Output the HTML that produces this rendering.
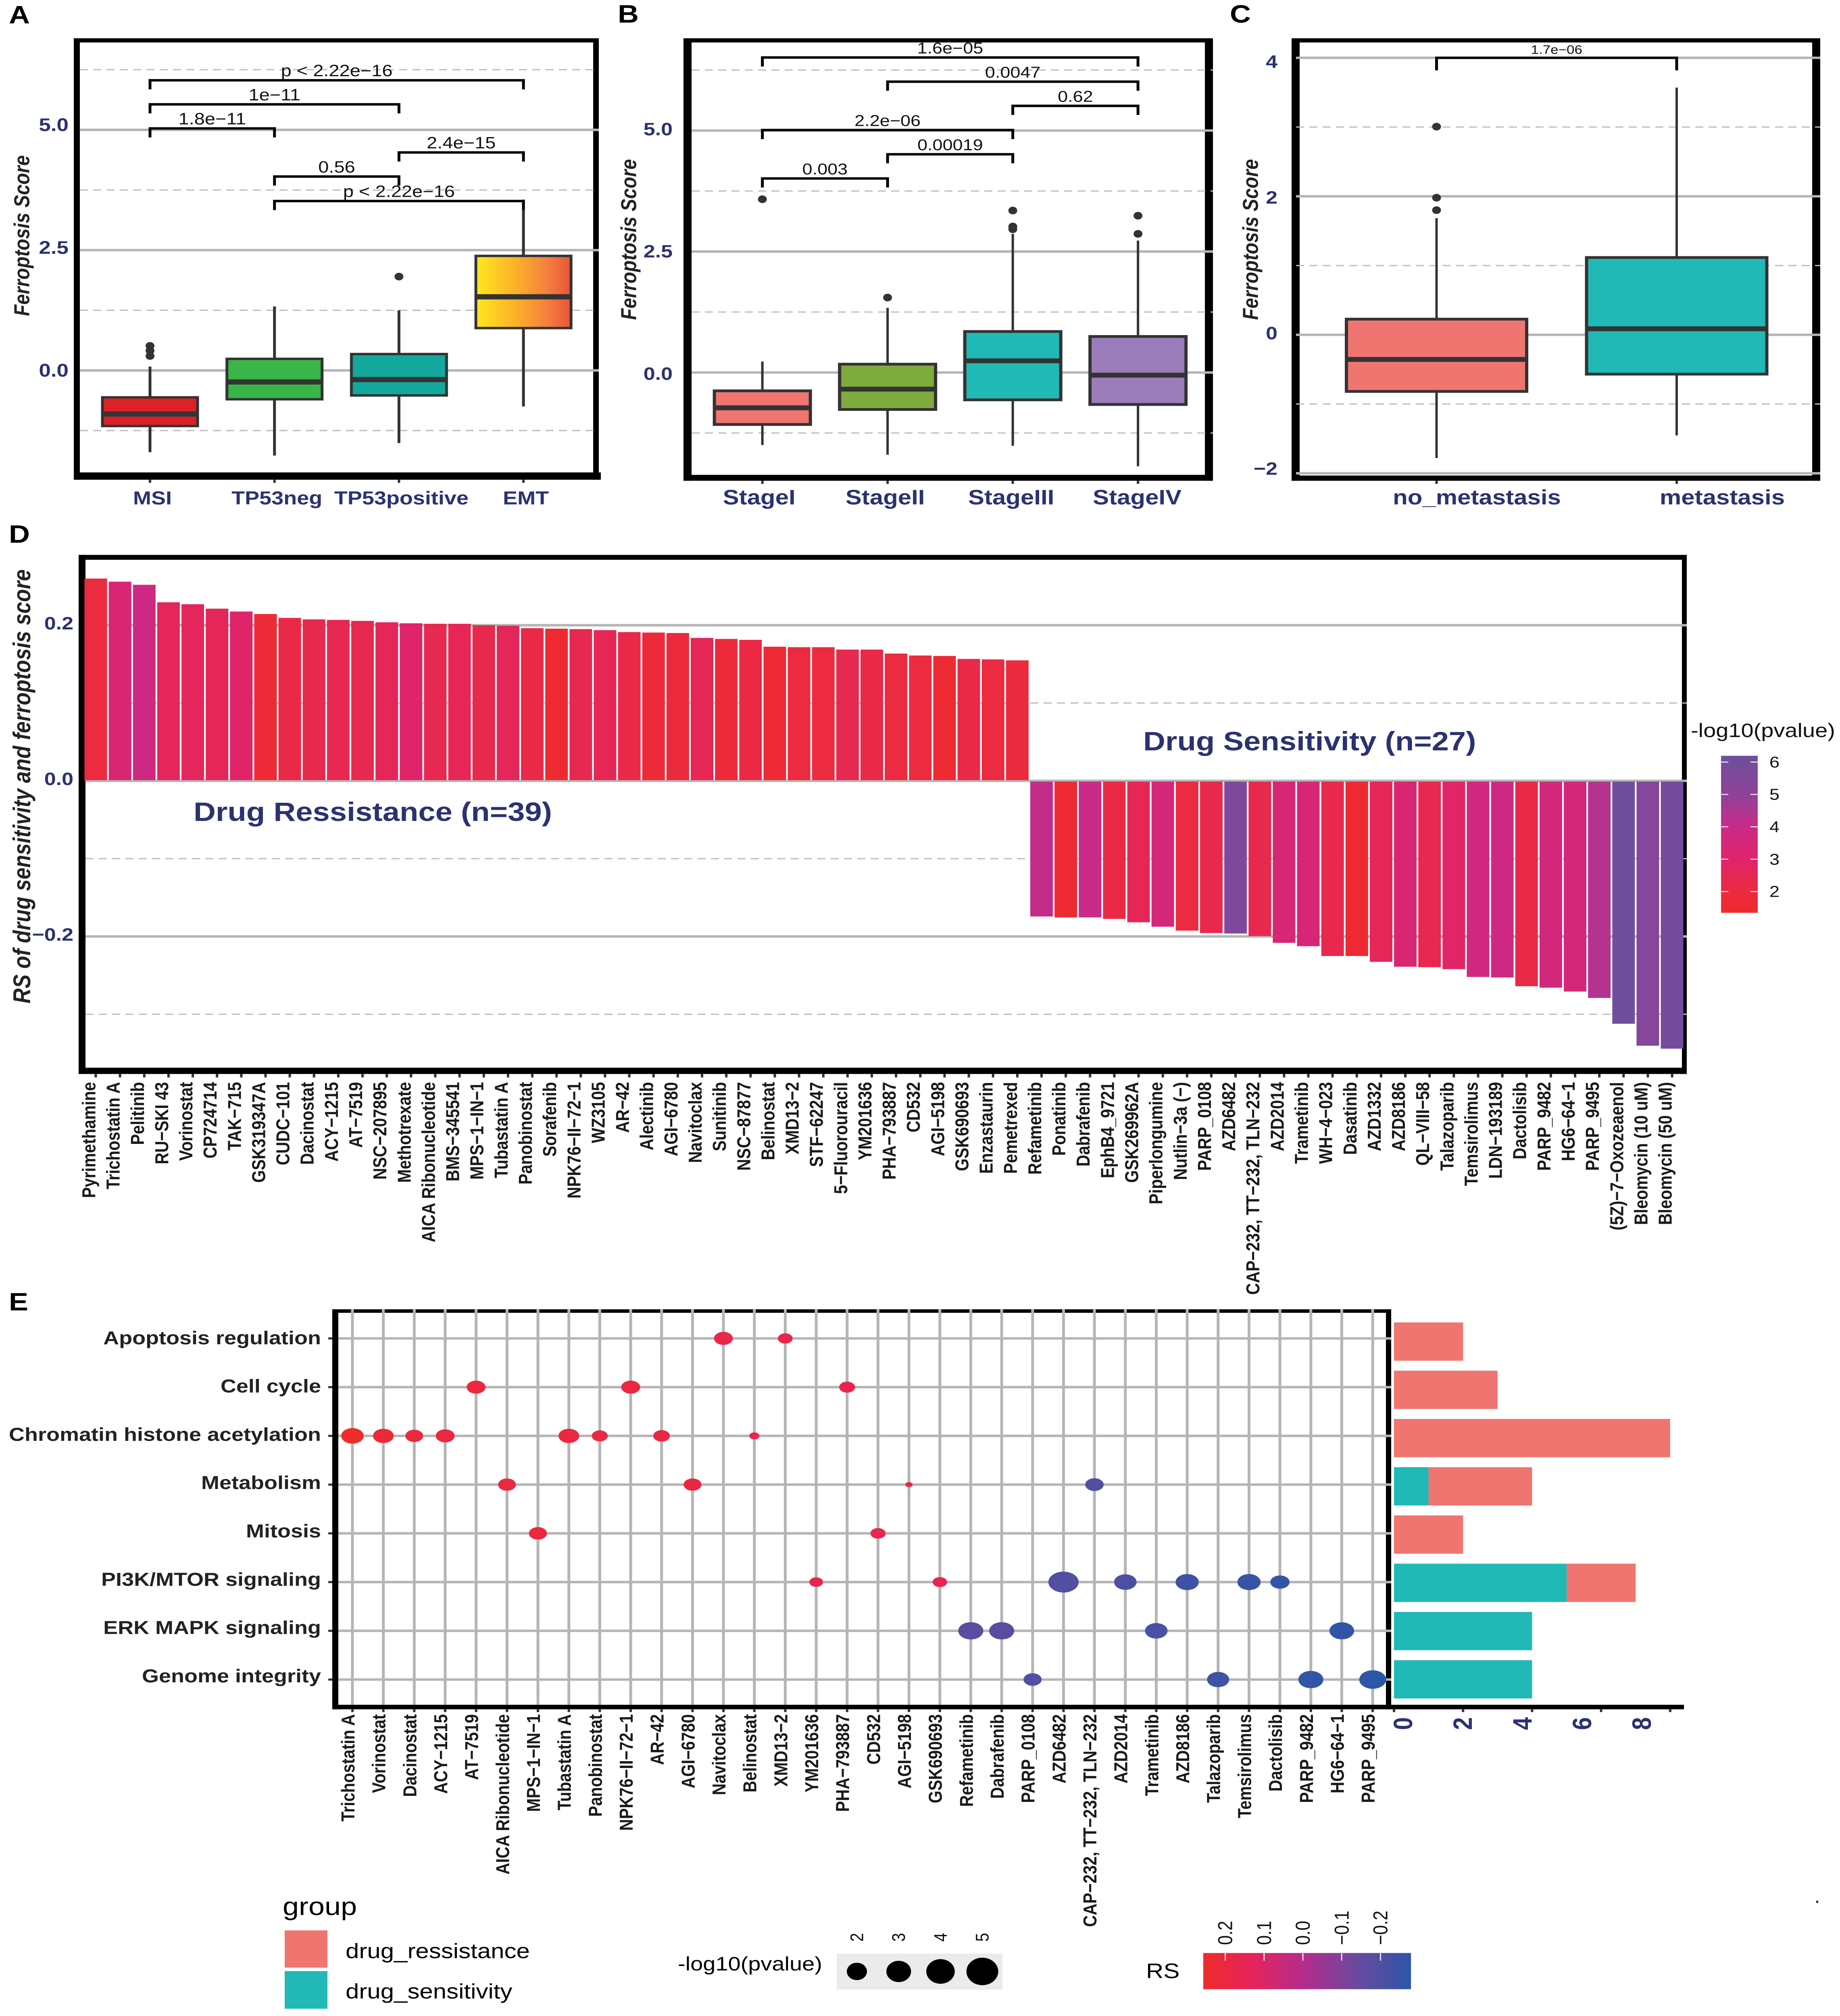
<!DOCTYPE html>
<html lang="en">
<head>
<meta charset="utf-8">
<title>Ferroptosis score figure</title>
<style>
html,body{margin:0;padding:0;background:#fff;width:100vw;height:100vh;overflow:hidden}
svg{display:block;position:absolute;left:0;top:0;width:100vw;height:100vh;overflow:hidden}
text{font-family:"Liberation Sans",sans-serif}
</style>
</head>
<body>
<svg id="fig" xmlns="http://www.w3.org/2000/svg" viewBox="0 0 4563 5791" preserveAspectRatio="none">
<defs>
<linearGradient id="emt-gradient" x1="0" y1="0" x2="1" y2="0">
<stop offset="0" stop-color="#ffe81f"/><stop offset="0.4" stop-color="#fbb428"/><stop offset="0.75" stop-color="#f3803d"/><stop offset="1" stop-color="#e9543a"/>
</linearGradient>
<linearGradient id="pvalue-gradient" x1="0" y1="1" x2="0" y2="0">
<stop offset="0" stop-color="#ee2a2a"/><stop offset="0.134" stop-color="#ec2a40"/><stop offset="0.34" stop-color="#e0246a"/><stop offset="0.546" stop-color="#c92a88"/><stop offset="0.753" stop-color="#8f4299"/><stop offset="1" stop-color="#6c4f9e"/>
</linearGradient>
<linearGradient id="rs-gradient" x1="0" y1="0" x2="1" y2="0">
<stop offset="0" stop-color="#ee2b2b"/><stop offset="0.234" stop-color="#e6245a"/><stop offset="0.477" stop-color="#b52c8c"/><stop offset="0.738" stop-color="#6a4a9e"/><stop offset="1" stop-color="#2c56a8"/>
</linearGradient>
</defs>
<rect x="0" y="0" width="4563" height="5791" fill="#fff"/>

<text x="22" y="67" font-size="72" font-weight="bold">A</text>
<text x="1532" y="65" font-size="72" font-weight="bold">B</text>
<text x="3050" y="65" font-size="72" font-weight="bold">C</text>
<text x="22" y="1559" font-size="72" font-weight="bold">D</text>
<text x="22" y="3764" font-size="72" font-weight="bold">E</text>

<g id="panel-a">
<g fill="#000">
<rect x="183" y="110" width="15" height="1268"/><rect x="183" y="110" width="1302" height="12"/><rect x="1471" y="110" width="14" height="1268"/><rect x="183" y="1357" width="1307" height="21"/>
</g>
<text transform="rotate(-90 54 677)" x="54" y="677" text-anchor="middle" dominant-baseline="central" font-size="54" font-weight="bold" font-style="italic" fill="#222">Ferroptosis Score</text>
</g>
<g id="panel-b">
<g fill="#000">
<rect x="1695" y="110" width="20" height="1271"/><rect x="1695" y="110" width="1313" height="12"/><rect x="2988" y="110" width="20" height="1271"/><rect x="1695" y="1364" width="1313" height="17"/>
</g>
<text transform="rotate(-90 1559 688)" x="1559" y="688" text-anchor="middle" dominant-baseline="central" font-size="54" font-weight="bold" font-style="italic" fill="#222">Ferroptosis Score</text>
</g>
<g id="panel-c">
<g fill="#000">
<rect x="3203" y="110" width="20" height="1271"/><rect x="3203" y="110" width="1311" height="12"/><rect x="4494" y="110" width="20" height="1271"/><rect x="3203" y="1366" width="1311" height="15"/>
</g>
<text transform="rotate(-90 3101 688)" x="3101" y="688" text-anchor="middle" dominant-baseline="central" font-size="54" font-weight="bold" font-style="italic" fill="#222">Ferroptosis Score</text>
</g>

<g id="panel-d">
<g fill="#000">
<rect x="195" y="1594" width="17" height="1491"/><rect x="195" y="1594" width="3988" height="14"/><rect x="4171" y="1594" width="12" height="1491"/><rect x="195" y="3067" width="3988" height="18"/>
</g>
<text transform="rotate(-90 54 2259)" x="54" y="2259" text-anchor="middle" dominant-baseline="central" font-size="60" font-weight="bold" font-style="italic" fill="#222">RS of drug sensitivity and ferroptosis score</text>
</g>

<g id="panel-e">
<g fill="#000">
<rect x="824" y="3761" width="15" height="1149"/><rect x="824" y="3761" width="2626" height="10"/><rect x="3437" y="3761" width="13" height="1149"/><rect x="824" y="4897" width="3352" height="13"/>
</g>
</g>

<g>
<text x="701" y="5477" dominant-baseline="central" font-size="72">group</text>
<rect x="706" y="5545" width="106" height="107" fill="#f07570"/>
<rect x="706" y="5662" width="106" height="108" fill="#20b9b6"/>
<text x="857" y="5604" dominant-baseline="central" font-size="60">drug_ressistance</text>
<text x="857" y="5720" dominant-baseline="central" font-size="60">drug_sensitivity</text>
</g>
<g id="size-legend">
<text x="1681" y="5642" dominant-baseline="central" font-size="56">-log10(pvalue)</text>
<rect x="2075" y="5612" width="411" height="103" fill="#ebebeb"/>
</g>
<g id="rs-legend">
<text x="2842" y="5661" dominant-baseline="central" font-size="60">RS</text>
<rect x="2984" y="5610" width="515" height="104" fill="url(#rs-gradient)"/>
</g>
<rect x="4504" y="5460" width="5" height="6" fill="#222"/>
</svg>

<script>
// ---------- Panel A data ----------
const aCategories = ['MSI', 'TP53neg', 'TP53positive', 'EMT'];
const aQ1 = [-1.156, -0.60, -0.52, 0.88];
const aMedian = [-0.907, -0.24, -0.19, 1.53];
const aQ3 = [-0.56, 0.24, 0.34, 2.38];
const aWhiskerLow = [-1.70, -1.77, -1.51, -0.75];
const aWhiskerHigh = [0.08, 1.33, 1.25, 3.55];
const aOutliers = [[0.51, 0.41, 0.30], [], [1.95], []];
const aTicks = [0, 2.5, 5];
const aTickLabels = ['0.0', '2.5', '5.0'];
const aMinorTicks = [-1.25, 1.25, 3.75, 6.25];
const aBracketFrom = [0, 0, 0, 2, 1, 1];
const aBracketTo = [3, 2, 1, 3, 2, 3];
const aBracketLevel = [6.03, 5.53, 5.03, 4.53, 4.03, 3.52];
const aBracketLabels = ['p < 2.22e\u221216', '1e\u221211', '1.8e\u221211', '2.4e\u221215', '0.56', 'p < 2.22e\u221216'];

// ---------- Panel B data ----------
const bCategories = ['StageI', 'StageII', 'StageIII', 'StageIV'];
const bQ1 = [-1.074, -0.764, -0.565, -0.661];
const bMedian = [-0.73, -0.344, 0.241, -0.055];
const bQ3 = [-0.379, 0.172, 0.847, 0.744];
const bWhiskerLow = [-1.50, -1.70, -1.515, -1.94];
const bWhiskerHigh = [0.227, 1.336, 2.865, 2.727];
const bOutliers = [[3.58], [1.549], [3.347, 3.017, 2.96], [3.24, 2.865]];
const bTicks = [0, 2.5, 5];
const bTickLabels = ['0.0', '2.5', '5.0'];
const bMinorTicks = [-1.25, 1.25, 3.75, 6.25];
const bBracketFrom = [0, 1, 2, 0, 1, 0];
const bBracketTo = [3, 3, 3, 2, 2, 1];
const bBracketLevel = [6.51, 6.01, 5.51, 5.01, 4.51, 4.01];
const bBracketLabels = ['1.6e\u221205', '0.0047', '0.62', '2.2e\u221206', '0.00019', '0.003'];

// ---------- Panel C data ----------
const cCategories = ['no_metastasis', 'metastasis'];
const cQ1 = [-0.818, -0.568];
const cMedian = [-0.356, 0.087];
const cQ3 = [0.226, 1.116];
const cWhiskerLow = [-1.78, -1.453];
const cWhiskerHigh = [1.684, 3.57];
const cOutliers = [[3.006, 1.98, 1.80], []];
const cTicks = [-2, 0, 2, 4];
const cTickLabels = ['\u22122', '0', '2', '4'];
const cMinorTicks = [-1, 1, 3];
const cBracketFrom = [0];
const cBracketTo = [1];
const cBracketLevel = [4.0];
const cBracketLabels = ['1.7e\u221206'];

// ---------- Panel D data ----------
const drugNames = ['Pyrimethamine','Trichostatin A','Pelitinib','RU\u2212SKI 43','Vorinostat','CP724714','TAK\u2212715','GSK319347A','CUDC\u2212101','Dacinostat','ACY\u22121215','AT\u22127519','NSC\u2212207895','Methotrexate','AICA Ribonucleotide','BMS\u2212345541','MPS\u22121\u2212IN\u22121','Tubastatin A','Panobinostat','Sorafenib','NPK76\u2212II\u221272\u22121','WZ3105','AR\u221242','Alectinib','AGI\u22126780','Navitoclax','Sunitinib','NSC\u221287877','Belinostat','XMD13\u22122','STF\u221262247','5\u2212Fluorouracil','YM201636','PHA\u2212793887','CD532','AGI\u22125198','GSK690693','Enzastaurin','Pemetrexed','Refametinib','Ponatinib','Dabrafenib','EphB4_9721','GSK269962A','Piperlongumine','Nutlin\u22123a (\u2212)','PARP_0108','AZD6482','CAP\u2212232, TT\u2212232, TLN\u2212232','AZD2014','Trametinib','WH\u22124\u2212023','Dasatinib','AZD1332','AZD8186','QL\u2212VIII\u221258','Talazoparib','Temsirolimus','LDN\u2212193189','Dactolisib','PARP_9482','HG6\u221264\u22121','PARP_9495','(5Z)\u22127\u2212Oxozeaenol','Bleomycin (10 uM)','Bleomycin (50 uM)'];
const drugRS = [0.260,0.256,0.252,0.2295,0.227,0.2213,0.2176,0.2144,0.2094,0.2075,0.2069,0.2056,0.2038,0.2025,0.2019,0.2019,0.2,0.1994,0.1962,0.1956,0.195,0.1937,0.1912,0.1906,0.19,0.1837,0.1824,0.1812,0.1724,0.1718,0.1718,0.1687,0.1687,0.1636,0.1611,0.1605,0.1567,0.1561,0.1549,-0.1743,-0.1755,-0.1755,-0.1774,-0.1818,-0.1875,-0.1925,-0.1956,-0.1962,-0.1994,-0.2082,-0.2125,-0.2251,-0.2251,-0.2326,-0.2389,-0.2395,-0.242,-0.252,-0.2527,-0.264,-0.2658,-0.2708,-0.279,-0.3122,-0.3404,-0.3442];
const drugLogP = [2.0,3.3,3.8,2.7,2.7,2.6,3.0,1.7,2.2,2.3,2.4,2.4,2.6,3.0,2.4,2.5,2.3,2.6,2.2,1.6,2.4,2.5,2.2,1.8,1.9,2.5,1.8,2.1,1.7,2.0,2.0,2.4,2.2,2.0,2.0,1.6,2.2,2.0,1.9,4.1,1.6,4.0,2.1,2.5,3.5,2.0,2.3,5.5,2.3,3.4,3.4,2.3,1.6,2.6,3.3,2.4,2.9,3.7,3.8,2.2,3.6,3.5,4.4,5.9,5.3,5.8];
const dTicks = [-0.2, 0, 0.2];
const dTickLabels = ['\u22120.2', '0.0', '0.2'];
const dMinorTicks = [-0.3, -0.1, 0.1];
const pvalueLegendTicks = [2, 3, 4, 5, 6];

// ---------- Panel E data ----------
const pathways = ['Apoptosis regulation','Cell cycle','Chromatin histone acetylation','Metabolism','Mitosis','PI3K/MTOR signaling','ERK MAPK signaling','Genome integrity'];
const eDrugs = ['Trichostatin A','Vorinostat','Dacinostat','ACY\u22121215','AT\u22127519','AICA Ribonucleotide','MPS\u22121\u2212IN\u22121','Tubastatin A','Panobinostat','NPK76\u2212II\u221272\u22121','AR\u221242','AGI\u22126780','Navitoclax','Belinostat','XMD13\u22122','YM201636','PHA\u2212793887','CD532','AGI\u22125198','GSK690693','Refametinib','Dabrafenib','PARP_0108','AZD6482','CAP\u2212232, TT\u2212232, TLN\u2212232','AZD2014','Trametinib','AZD8186','Talazoparib','Temsirolimus','Dactolisib','PARP_9482','HG6\u221264\u22121','PARP_9495'];
const dotDrug = ['Navitoclax','XMD13\u22122','AT\u22127519','NPK76\u2212II\u221272\u22121','PHA\u2212793887','Trichostatin A','Vorinostat','Dacinostat','ACY\u22121215','Tubastatin A','Panobinostat','AR\u221242','Belinostat','AICA Ribonucleotide','AGI\u22126780','AGI\u22125198','CAP\u2212232, TT\u2212232, TLN\u2212232','MPS\u22121\u2212IN\u22121','CD532','YM201636','GSK690693','AZD6482','AZD2014','AZD8186','Temsirolimus','Dactolisib','Refametinib','Dabrafenib','Trametinib','HG6\u221264\u22121','PARP_0108','Talazoparib','PARP_9482','PARP_9495'];
const dotPathway = [0,0,1,1,1,2,2,2,2,2,2,2,2,3,3,3,3,4,4,5,5,5,5,5,5,5,6,6,6,6,7,7,7,7];
const dotLogP = [3.3,2.75,3.3,3.3,2.9,3.8,3.55,3.15,3.3,3.55,2.9,3.0,2.1,3.15,3.15,1.7,3.25,3.2,2.8,2.6,2.7,4.87,3.8,3.9,3.9,3.35,4.15,4.15,3.8,4.1,3.2,3.75,4.15,4.4];
const sideSensitivity = [0,0,0,1,0,5,4,4];
const sideResistance = [2,3,8,3,2,2,0,0];
const sideTicks = [0,2,4,6,8];
const sizeLegendValues = [2,3,4,5];
const rsLegendValues = [0.2,0.1,0,-0.1,-0.2];
const rsLegendLabels = ['0.2','0.1','0.0','\u22120.1','\u22120.2'];

// ---------- helpers ----------
const NS = 'http://www.w3.org/2000/svg';
const NAVY = '#2b3270';
const GRID = '#b5b5b5';
function el(tag, attrs, parent) {
  const e = document.createElementNS(NS, tag);
  for (const k in attrs) e.setAttribute(k, attrs[k]);
  parent.appendChild(e);
  return e;
}
function txt(parent, x, y, str, size, extra) {
  const e = el('text', Object.assign({x: x, y: y, 'font-size': size, 'dominant-baseline': 'central'}, extra || {}), parent);
  e.textContent = str;
  return e;
}
function vtxt(parent, x, y, str, size, extra) {
  return txt(parent, x, y, str, size, Object.assign({transform: 'rotate(-90 ' + x + ' ' + y + ')'}, extra || {}));
}
function hexToRgb(h) { return [1,3,5].map(function (i) { return parseInt(h.substr(i, 2), 16); }); }
function ramp(stops, colors, v) {
  if (v <= stops[0]) return colors[0];
  for (let i = 1; i < stops.length; i++) {
    if (v <= stops[i]) {
      const t = (v - stops[i - 1]) / (stops[i] - stops[i - 1]);
      const a = hexToRgb(colors[i - 1]), b = hexToRgb(colors[i]);
      return 'rgb(' + a.map(function (c, j) { return Math.round(c + (b[j] - c) * t); }).join(',') + ')';
    }
  }
  return colors[colors.length - 1];
}
function pColor(p) { return ramp([1.35,2,3,4,5,6], ['#ee2a2a','#ec2a40','#e0246a','#c92a88','#8f4299','#6c4f9e'], p); }
function rsColor(rs) { return ramp([-0.28,-0.14,0,0.13,0.255], ['#2c56a8','#6a4a9e','#b52c8c','#e6245a','#ee2b2b'], rs); }

function drawGrid(parent, prefix, major, minor, y, x0, x1) {
  minor.forEach(function (v) {
    const l = el('line', {x1: x0, x2: x1, y1: y(v), y2: y(v), stroke: '#bdbdbd', 'stroke-width': 3.5, 'stroke-dasharray': '20 13'}, parent);
    
    
  });
  major.forEach(function (v) {
    const l = el('line', {x1: x0, x2: x1, y1: y(v), y2: y(v), stroke: GRID, 'stroke-width': 7}, parent);
    
    
  });
}
function drawBoxes(parent, p) {
  p.cats.forEach(function (cat, i) {
    const cx = p.x(i), w = p.boxW;
    const whisk = el('line', {x1: cx, x2: cx, y1: p.y(p.hi[i]), y2: p.y(p.lo[i]), stroke: '#333', 'stroke-width': p.wSW}, parent);
    
    
    const box = el('rect', {x: cx - w / 2, y: p.y(p.q3[i]), width: w, height: p.y(p.q1[i]) - p.y(p.q3[i]), fill: p.fills[i], stroke: '#333', 'stroke-width': p.bSW}, parent);
    
    
    const med = el('line', {x1: cx - w / 2, x2: cx + w / 2, y1: p.y(p.med[i]), y2: p.y(p.med[i]), stroke: '#333', 'stroke-width': p.mSW}, parent);
    
    
    p.out[i].forEach(function (v) {
      const o = el('ellipse', {cx: cx, cy: p.y(v), rx: 11, ry: 11, fill: '#333'}, parent);
      
      
    });
    const t = el('rect', {x: cx - 3, y: p.axisBottom, width: 6, height: 9, fill: '#333'}, parent);
    
    
  });
}
function drawBrackets(parent, p) {
  p.from.forEach(function (f, i) {
    const x1 = p.x(f), x2 = p.x(p.to[i]), yy = p.y(p.level[i]);
    const b = el('path', {d: 'M' + x1 + ' ' + (yy + p.tick) + 'V' + yy + 'H' + x2 + 'V' + (yy + p.tick), fill: 'none', stroke: '#000', 'stroke-width': 7}, parent);
    
    
    const t = txt(parent, (x1 + x2) / 2, yy - p.gap, p.labels[i], p.font, {'text-anchor': 'middle', fill: '#111'});
    
    
  });
}
function drawYTickLabels(parent, ticks, labels, y, x, size) {
  ticks.forEach(function (v, i) {
    const t = txt(parent, x, y(v), labels[i], size, {'text-anchor': 'end', 'font-weight': 'bold', fill: NAVY});
    
    
  });
}

// ---------- Panel A ----------
(function () {
  const g = document.getElementById('panel-a');
  const x = function (i) { return 372 + 308.7 * i; };
  const y = function (v) { return 1064 - 138.2 * v; };
  drawGrid(g, 'panel-a', aTicks, aMinorTicks, y, 198, 1485);
  drawBoxes(g, {cats: aCategories, x: x, y: y, q1: aQ1, med: aMedian, q3: aQ3, lo: aWhiskerLow, hi: aWhiskerHigh, out: aOutliers, fills: ['#dc2127', '#3ab54a', '#12a89d', 'url(#emt-gradient)'], boxW: 236, wSW: 7, bSW: 7, mSW: 15, axisBottom: 1378});
  drawBrackets(g, {from: aBracketFrom, to: aBracketTo, level: aBracketLevel, labels: aBracketLabels, x: x, y: y, tick: 26, gap: 27, font: 47});
  drawYTickLabels(g, aTicks, aTickLabels, function (v) { return 1064 - 141 * v; }, 170, 53);
  aCategories.forEach(function (c, i) {
    const t = txt(g, x(i) + 6, 1430, c, 54, {'text-anchor': 'middle', 'font-weight': 'bold', fill: NAVY});
    
    
  });
})();

// ---------- Panel B ----------
(function () {
  const g = document.getElementById('panel-b');
  const x = function (i) { return 1890.6 + 310.5 * i; };
  const y = function (v) { return 1070 - 139 * v; };
  drawGrid(g, 'panel-b', bTicks, bMinorTicks, y, 1715, 3008);
  drawBoxes(g, {cats: bCategories, x: x, y: y, q1: bQ1, med: bMedian, q3: bQ3, lo: bWhiskerLow, hi: bWhiskerHigh, out: bOutliers, fills: ['#f07570', '#7faa3e', '#20b9b6', '#9a7dba'], boxW: 238, wSW: 6, bSW: 8, mSW: 14, axisBottom: 1381});
  drawBrackets(g, {from: bBracketFrom, to: bBracketTo, level: bBracketLevel, labels: bBracketLabels, x: x, y: y, tick: 26, gap: 27, font: 45});
  drawYTickLabels(g, bTicks, bTickLabels, function (v) { return 1073.7 - 140.5 * v; }, 1668, 52);
  bCategories.forEach(function (c, i) {
    const t = txt(g, x(i) + 2 * i - 8, 1428, c, 60, {'text-anchor': 'middle', 'font-weight': 'bold', fill: NAVY});
    
    
  });
})();

// ---------- Panel C ----------
(function () {
  const g = document.getElementById('panel-c');
  const x = function (i) { return 3562.5 + 595.5 * i; };
  const y = function (v) { return 961.7 - 198.9 * v; };
  drawGrid(g, 'panel-c', cTicks, cMinorTicks, y, 3214, 4514);
  drawBoxes(g, {cats: cCategories, x: x, y: y, q1: cQ1, med: cMedian, q3: cQ3, lo: cWhiskerLow, hi: cWhiskerHigh, out: cOutliers, fills: ['#f07570', '#20b9b6'], boxW: 447, wSW: 6, bSW: 8, mSW: 14, axisBottom: 1381});
  drawBrackets(g, {from: cBracketFrom, to: cBracketTo, level: cBracketLevel, labels: cBracketLabels, x: x, y: y, tick: 36, gap: 24, font: 35});
  drawYTickLabels(g, cTicks, cTickLabels, function (v) { return 957.3 - 194.8 * v; }, 3168, 52);
  cCategories.forEach(function (c, i) {
    const t = txt(g, x(i) + 100 + 13 * i, 1428, c, 60, {'text-anchor': 'middle', 'font-weight': 'bold', fill: NAVY});
    
    
  });
})();

// ---------- Panel D ----------
(function () {
  const g = document.getElementById('panel-d');
  const x = function (i) { return 237.5 + 60.14 * i; };
  const y = function (v) { return 2243 - 2235 * v; };
  drawGrid(g, 'panel-d', dTicks, dMinorTicks, y, 212, 4183);
  drugNames.forEach(function (name, i) {
    const v = drugRS[i];
    const bar = el('rect', {x: x(i) - 28, y: Math.min(y(v), y(0)), width: 56, height: Math.abs(y(v) - y(0)), fill: pColor(drugLogP[i])}, g);
    
    
    const tick = el('rect', {x: x(i) - 3, y: 3085, width: 6, height: 10, fill: '#333'}, g);
    
    
    const lab = vtxt(g, x(i) - 16, 3108, name, 46.5, {'text-anchor': 'end', 'font-weight': 'bold', fill: '#1a1a1a'});
    
    
  });
  const zero = el('line', {x1: 212, x2: 4183, y1: y(0), y2: y(0), stroke: GRID, 'stroke-width': 4}, g);
  
  
  drawYTickLabels(g, dTicks, dTickLabels, function (v) { return y(v) - 5; }, 182, 52);

  const a1 = txt(g, 480, 2333, 'Drug Ressistance (n=39)', 76, {'font-weight': 'bold', fill: NAVY});
  
  
  const a2 = txt(g, 2835, 2130, 'Drug Sensitivity (n=27)', 76, {'font-weight': 'bold', fill: NAVY});
  
  

  const lt = txt(g, 4193, 2099, '-log10(pvalue)', 56, {fill: '#111'});
  
  
  const cb = el('rect', {x: 4268, y: 2171, width: 91, height: 451, fill: 'url(#pvalue-gradient)'}, g);
  
  
  const ly = function (p) { return 2561 - 93 * (p - 2); };
  pvalueLegendTicks.forEach(function (p) {
    const t1 = el('line', {x1: 4268, x2: 4286, y1: ly(p), y2: ly(p), stroke: '#fff', 'stroke-width': 2.5}, g);
    
    
    const t2 = el('line', {x1: 4341, x2: 4359, y1: ly(p), y2: ly(p), stroke: '#fff', 'stroke-width': 2.5}, g);
    
    
    const l = txt(g, 4388, ly(p), String(p), 45, {fill: '#111'});
    
    
  });
})();

// ---------- Panel E ----------
(function () {
  const g = document.getElementById('panel-e');
  const x = function (i) { return 874 + 76.67 * i; };
  const y = function (i) { return 3844.6 + 139.99 * i; };
  const labelY = function (i) { return 3842.7 + 138.7 * i; };
  const sideX = function (v) { return 3457 + 85.6 * v; };
  const sideY = function (i) { return 3853.7 + 138.6 * i; };
  const rsByDrug = {};
  drugNames.forEach(function (n, i) { rsByDrug[n] = drugRS[i]; });

  pathways.forEach(function (p, i) {
    const h = el('line', {x1: 839, x2: 3450, y1: y(i), y2: y(i), stroke: GRID, 'stroke-width': 7}, g);
    
    
  });
  eDrugs.forEach(function (d, i) {
    const v = el('line', {x1: x(i), x2: x(i), y1: 3761, y2: 4897, stroke: GRID, 'stroke-width': 7}, g);
    
    
    const t = el('rect', {x: x(i) - 3, y: 4910, width: 6, height: 8, fill: '#333'}, g);
    
    
    const l = vtxt(g, x(i) - 10, 4924, d, 46.5, {'text-anchor': 'end', 'font-weight': 'bold', fill: '#1a1a1a'});
    
    
  });
  pathways.forEach(function (p, i) {
    const t = el('rect', {x: 814, y: y(i) - 3, width: 10, height: 6, fill: '#333'}, g);
    
    
    const l = txt(g, 796, labelY(i), p, 54, {'text-anchor': 'end', 'font-weight': 'bold', fill: '#222'});
    
    
  });
  dotDrug.forEach(function (d, i) {
    const w = 18 * (dotLogP[i] - 0.7);
    const dot = el('ellipse', {cx: x(eDrugs.indexOf(d)), cy: y(dotPathway[i]), rx: w / 2, ry: w * 0.4, fill: rsColor(rsByDrug[d])}, g);
    
    
  });
  pathways.forEach(function (p, i) {
    const s = sideSensitivity[i], r = sideResistance[i];
    if (s > 0) {
      const b = el('rect', {x: sideX(0), y: sideY(i) - 55, width: sideX(s) - sideX(0), height: 110, fill: '#20b9b6'}, g);
      
      
    }
    if (r > 0) {
      const b = el('rect', {x: sideX(s), y: sideY(i) - 55, width: sideX(s + r) - sideX(s), height: 110, fill: '#f07570'}, g);
      
      
    }
  });
  sideTicks.forEach(function (v, i) {
    const t = el('rect', {x: sideX(v) - 3, y: 4910, width: 6, height: 8, fill: '#333'}, g);
    
    
    const l = vtxt(g, 3480 + 148 * i, 4951, String(v), 66, {'text-anchor': 'middle', 'font-weight': 'bold', fill: NAVY});
    
    
  });
})();

// ---------- Legends ----------
(function () {
  const g = document.getElementById('size-legend');
  sizeLegendValues.forEach(function (p, i) {
    const cx = 2125 + 103.7 * i;
    const c = el('circle', {cx: cx, cy: 5663, r: 39.5 * Math.sqrt(p / 5), fill: '#000'}, g);
    
    
    const l = vtxt(g, cx, 5565, String(p), 45, {'text-anchor': 'middle', fill: '#111'});
    
    
  });
  const r = document.getElementById('rs-legend');
  const rx = function (v) { return 3231 - 962 * v; };
  rsLegendValues.forEach(function (v, i) {
    const t = el('line', {x1: rx(v), x2: rx(v), y1: 5610, y2: 5632, stroke: '#fff', 'stroke-width': 2.5}, r);
    
    
    const l = vtxt(r, rx(v), 5587, rsLegendLabels[i], 50, {'text-anchor': 'start', fill: '#111'});
    
    
  });
})();
</script>
</body>
</html>
